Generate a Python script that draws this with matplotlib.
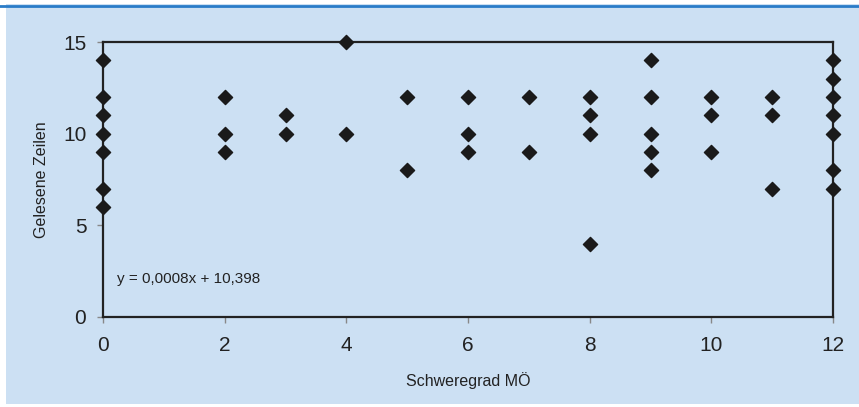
import matplotlib.pyplot as plt
from matplotlib.patches import Rectangle
from matplotlib.lines import Line2D

plt.rcParams['font.family'] = ['Liberation Sans', 'DejaVu Sans']

# Schweregrad MÖ vs. gelesene Zeilen
schweregrad = [0, 0, 0, 0, 0, 0, 0,
               2, 2, 2,
               3, 3,
               4, 4,
               5, 5,
               6, 6, 6,
               7, 7,
               8, 8, 8, 8,
               9, 9, 9, 9, 9,
               10, 10, 10,
               11, 11, 11,
               12, 12, 12, 12, 12, 12, 12]
zeilen = [14, 12, 11, 10, 9, 7, 6,
          12, 10, 9,
          11, 10,
          15, 10,
          12, 8,
          12, 10, 9,
          12, 9,
          12, 11, 10, 4,
          14, 12, 10, 9, 8,
          12, 11, 9,
          12, 11, 7,
          14, 13, 12, 11, 10, 8, 7]
x_ticks = [0, 2, 4, 6, 8, 10, 12]
y_ticks = [0, 5, 10, 15]
gleichung = "y = 0,0008x + 10,398"

bg = '#cce0f3'
fig = plt.figure(figsize=(8.59, 4.07), dpi=100)
fig.patch.set_facecolor('white')

# hellblaues Panel + blaue Linie oben
fig.add_artist(Rectangle((6 / 859, 0.008), 1, 400 / 407, transform=fig.transFigure,
                         facecolor=bg, edgecolor='none', zorder=-2))
fig.add_artist(Line2D([0, 1], [1 - 6 / 407, 1 - 6 / 407], transform=fig.transFigure,
                      color='#2a7cc8', lw=2))

ax = fig.add_axes([103 / 859, 1 - 317 / 407, 730 / 859, 275 / 407])
ax.set_facecolor(bg)
ax.scatter(schweregrad, zeilen, marker='D', s=52, color='#1a1a1a', zorder=3, clip_on=False)

ax.set_xlim(0, 12)
ax.set_ylim(0, 15)
ax.set_xticks(x_ticks)
ax.set_yticks(y_ticks)
for sp in ax.spines.values():
    sp.set_color('#222222')
    sp.set_linewidth(1.6)
ax.tick_params(direction='out', length=4, width=1, color='#888888',
               labelsize=15, labelcolor='#222222')
ax.tick_params(axis='x', pad=10)
ax.tick_params(axis='y', pad=8)

ax.set_xlabel('Schweregrad MÖ', fontsize=11.5, color='#222222', labelpad=12)
ax.set_ylabel('Gelesene Zeilen', fontsize=11.5, color='#222222', labelpad=10)
ax.text(0.23, 2.1, gleichung, fontsize=11, color='#222222', va='center', ha='left')

fig.savefig('out.png', dpi=100, facecolor=fig.get_facecolor())
